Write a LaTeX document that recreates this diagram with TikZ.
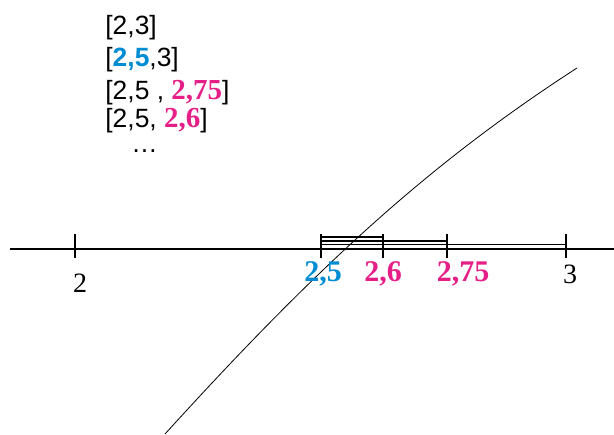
\documentclass[tikz,border=0pt]{standalone}
\usepackage{fontspec}
\setmainfont{Liberation Serif}
\setsansfont{Liberation Sans}
\usepackage{tikz}
\usetikzlibrary{positioning}
\definecolor{azul}{RGB}{0,140,210}
\definecolor{rosa}{RGB}{230,30,135}
\newcommand{\resalta}[2]{\textcolor{#1}{\rmfamily\bfseries\fontsize{14.5}{16}\selectfont #2}}

\begin{document}
\begin{tikzpicture}[x=0.5pt,y=0.5pt,
    marca/.style={line width=1pt},
    intervalo/.style={line width=0.8pt},
    lista/.style={font=\sffamily\fontsize{13.2}{15}\selectfont, anchor=base west, inner sep=0pt},
    etiq/.style={font=\fontsize{14}{16}\selectfont, anchor=base, inner sep=0pt},
    etiqb/.style={etiq, font=\bfseries\fontsize{15}{17}\selectfont}]
    \useasboundingbox (0,0) rectangle (614,434);

    % Eje
    \coordinate (ini) at (10,185);
    \coordinate (fin) at (614,185);
    \draw[line width=0.9pt] (ini) -- (fin);

    % Marcas del eje
    \coordinate (m2)   at (75,185);
    \coordinate (m25)  at (321,185);
    \coordinate (m26)  at (383,185);
    \coordinate (m275) at (447,185);
    \coordinate (m3)   at (566,185);
    \foreach \p in {m2,m25,m26,m275,m3}
      \draw[marca] ([yshift=7.5pt]\p) -- ([yshift=-4.5pt]\p);

    % Intervalos encajados
    \draw[intervalo] ([yshift=2.25pt]m25) -- ([yshift=2.25pt]m3);
    \draw[intervalo] ([yshift=4pt]m25)    -- ([yshift=4pt]m275);
    \draw[intervalo] ([yshift=6pt]m25)    -- ([yshift=6pt]m26);

    % Curva
    \draw[line width=0.4pt] (165,0) .. controls (315,165) and (427,269) .. (577,366);

    % Etiquetas del eje
    \node[etiq] (e2)   at (80,142)  {2};
    \node[etiqb, azul] (e25)  at (323,153) {2,5};
    \node[etiqb, rosa] (e26)  at (383,153) {2,6};
    \node[etiqb, rosa] (e275) at (463,153) {2,75};
    \node[etiq] (e3)   at (570,151) {3};

    % Lista de intervalos
    \node[lista] (f1) at (105,399) {[2,3]};
    \node[lista] (f2) at (105,367) {[\textcolor{azul}{\bfseries 2,5},3]};
    \node[lista] (f3) at (105,334) {[2,5 , \resalta{rosa}{2,75}]};
    \node[lista] (f4) at (105,306) {[2,5, \resalta{rosa}{2,6}]};
    \node[lista] (f5) at (131,281) {\dots};
  \end{tikzpicture}
\end{document}
